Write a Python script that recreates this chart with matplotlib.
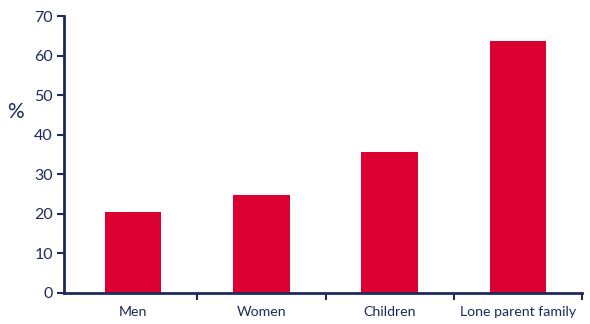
import matplotlib
matplotlib.use("Agg")
import matplotlib.pyplot as plt
from matplotlib.ticker import FixedLocator

categories = ["Men", "Women", "Children", "Lone parent family"]
values = [20.5, 24.8, 35.6, 63.7]
yticks = [0, 10, 20, 30, 40, 50, 60, 70]

navy = "#1f2a5c"
red = "#dc0032"

plt.rcParams["font.family"] = ["Lato", "DejaVu Sans"]

fig = plt.figure(figsize=(5.9, 3.24), dpi=100)
ax = fig.add_axes([64 / 590, 31 / 324, (582 - 64) / 590, (293 - 16) / 324])

x = list(range(len(categories)))
ax.bar(x, values, width=0.44, color=red)

ax.set_xlim(-0.54, len(categories) - 0.5)
ax.set_ylim(0, 70)
ax.set_yticks(yticks)
ax.set_yticklabels([str(t) for t in yticks], fontsize=11.5, color=navy)

ax.set_xticks(x)
ax.set_xticklabels(categories, fontsize=10.2, color=navy)
ax.tick_params(axis="x", which="major", length=0, pad=9)
ax.xaxis.set_minor_locator(FixedLocator([i + 0.5 for i in x]))
ax.tick_params(axis="x", which="minor", length=5, width=1.5, color=navy, direction="out")
ax.tick_params(axis="y", length=5, width=1.5, color=navy, direction="out", pad=3)

for side in ("top", "right"):
    ax.spines[side].set_visible(False)
for side in ("left", "bottom"):
    ax.spines[side].set_color(navy)
    ax.spines[side].set_linewidth(2)

fig.text(15 / 590, 1 - 112 / 324, "%", fontsize=15, color=navy, ha="center", va="center")

fig.savefig("out.png", dpi=100)
